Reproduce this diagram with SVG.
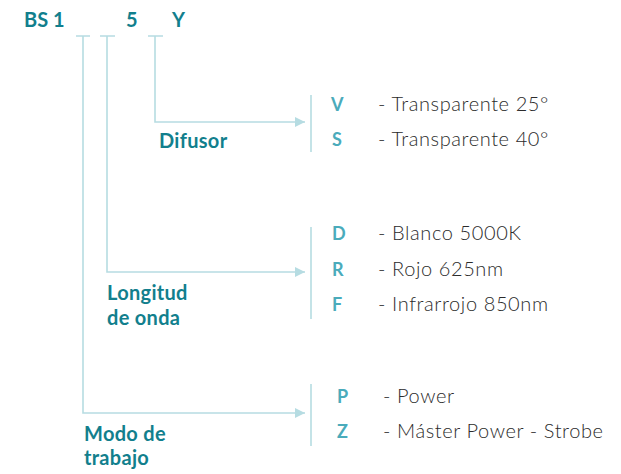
<svg xmlns="http://www.w3.org/2000/svg" width="621" height="474" viewBox="0 0 621 474">
<style>
.code{font-family:Lato,"Open Sans",sans-serif;font-weight:700;font-size:20px;fill:#127f8d}
.lbl{font-family:Lato,"Open Sans",sans-serif;font-weight:700;font-size:20px;letter-spacing:0.3px;fill:#127f8d}
.key{font-family:Lato,"Open Sans",sans-serif;font-weight:700;font-size:18px;fill:#4aabbb}
.desc{font-family:Lato,"Open Sans",sans-serif;font-weight:300;font-size:20px;letter-spacing:0.6px;fill:#2b2b2b}
.ln{fill:none;stroke:#b6dce2;stroke-width:1.6}
</style>
<defs>
<marker id="ah" viewBox="0 0 10 10" refX="10" refY="5" markerWidth="16" markerHeight="10" markerUnits="userSpaceOnUse" orient="auto">
<path d="M0,0 L10,5 L0,10 z" fill="#b6dce2"/>
</marker>
</defs>
<rect width="621" height="474" fill="#fff"/>
<g id="code">
<text class="code" x="24" y="27">BS 1</text>
<text class="code" x="126" y="27">5</text>
<text class="code" x="172" y="27">Y</text>
</g>
<g id="connectors">
<path class="ln" d="M76,36 H90 M100,36 H115 M148,36 H163"/>
<path class="ln" d="M155,36 V122 H305" marker-end="url(#ah)"/>
<path class="ln" d="M107,36 V272 H305" marker-end="url(#ah)"/>
<path class="ln" d="M83,36 V413 H305" marker-end="url(#ah)"/>
<path class="ln" d="M311,95 V152 M311,227 V319 M311,384 V446"/>
</g>
<g id="difusor">
<text class="lbl" x="159" y="148">Difusor</text>
<text class="key" x="331" y="111">V</text>
<text class="desc" x="378" y="111">- Transparente 25°</text>
<text class="key" x="332" y="146">S</text>
<text class="desc" x="378" y="146">- Transparente 40°</text>
</g>
<g id="longitud">
<text class="lbl" x="107" y="300">Longitud</text>
<text class="lbl" x="107" y="325">de onda</text>
<text class="key" x="332" y="240">D</text>
<text class="desc" x="378" y="240">- Blanco 5000K</text>
<text class="key" x="332" y="276">R</text>
<text class="desc" x="378" y="276">- Rojo 625nm</text>
<text class="key" x="332" y="311">F</text>
<text class="desc" x="378" y="311">- Infrarrojo 850nm</text>
</g>
<g id="modo">
<text class="lbl" x="84" y="441">Modo de</text>
<text class="lbl" x="84" y="465">trabajo</text>
<text class="key" x="337" y="403">P</text>
<text class="desc" x="383" y="403">- Power</text>
<text class="key" x="337" y="438">Z</text>
<text class="desc" x="383" y="438">- Máster Power - Strobe</text>
</g>
</svg>
